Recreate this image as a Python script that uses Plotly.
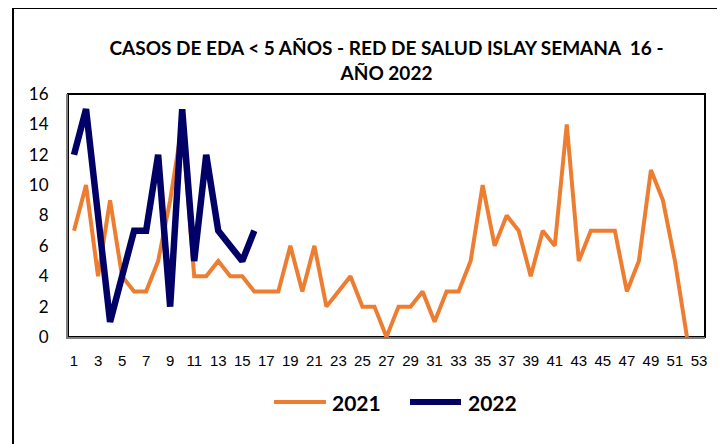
import plotly.graph_objects as go

weeks_2021 = list(range(1, 53))
cases_2021 = [7, 10, 4, 9, 4, 3, 3, 5, 9, 14, 4, 4, 5, 4, 4, 3, 3, 3, 6, 3,
              6, 2, 3, 4, 2, 2, 0, 2, 2, 3, 1, 3, 3, 5, 10, 6, 8, 7, 4, 7,
              6, 14, 5, 7, 7, 7, 3, 5, 11, 9, 5, 0]
weeks_2022 = list(range(1, 17))
cases_2022 = [12, 15, 8, 1, 4, 7, 7, 12, 2, 15, 5, 12, 7, 6, 5, 7]
x_tick_vals = list(range(1, 54, 2))
y_tick_vals = list(range(0, 17, 2))
series_names = ["2021", "2022"]

ORANGE = "#ED7D31"
NAVY = "#000066"

fig = go.Figure()
fig.add_trace(go.Scatter(x=weeks_2021, y=cases_2021, mode="lines", name=series_names[0],
                         line=dict(color=ORANGE, width=4), showlegend=False))
fig.add_trace(go.Scatter(x=weeks_2022, y=cases_2022, mode="lines", name=series_names[1],
                         line=dict(color=NAVY, width=6.5), showlegend=False))

# page body has an 8px margin; the figure is sized so it fills the window
OFF = 8
FIG_W, FIG_H = 725 - OFF, 444 - OFF
L, R, T, B = 68 - OFF, 20, 94 - OFF, 107
W, H = FIG_W - L - R, FIG_H - T - B  # plot area size in px


def px_x(p):
    return (p - 68) / W


def px_y(p):
    return (337 - p) / H


legend_y = px_y(402)
shapes = [
    dict(type="rect", xref="paper", yref="paper", x0=0, x1=1, y0=0, y1=1,
         line=dict(color="black", width=2), layer="below"),
    dict(type="rect", xref="paper", yref="paper",
         x0=px_x(13), x1=px_x(721), y0=px_y(470), y1=px_y(8),
         line=dict(color="black", width=2), layer="below"),
    dict(type="line", xref="paper", yref="paper", x0=px_x(274), x1=px_x(326),
         y0=legend_y, y1=legend_y, line=dict(color=ORANGE, width=4)),
    dict(type="line", xref="paper", yref="paper", x0=px_x(410), x1=px_x(461),
         y0=legend_y, y1=legend_y, line=dict(color=NAVY, width=6)),
]
annotations = [
    dict(text=series_names[0], xref="paper", yref="paper", x=px_x(330), y=legend_y,
         xanchor="left", yanchor="middle", showarrow=False,
         font=dict(family="Lato", size=21, color="black", weight="bold")),
    dict(text=series_names[1], xref="paper", yref="paper", x=px_x(466), y=legend_y,
         xanchor="left", yanchor="middle", showarrow=False,
         font=dict(family="Lato", size=21, color="black", weight="bold")),
]

fig.update_layout(
    width=FIG_W, height=FIG_H,
    margin=dict(l=L, r=R, t=T, b=B, autoexpand=False),
    paper_bgcolor="white", plot_bgcolor="white",
    showlegend=False,
    title=dict(text="CASOS DE EDA < 5 AÑOS - RED DE SALUD ISLAY SEMANA  16 -<br>AÑO 2022",
               x=0.5, xref="paper", xanchor="center", y=1 - 47 / FIG_H, yanchor="middle",
               font=dict(family="Lato", size=19, color="black", weight="bold")),
    xaxis=dict(range=[0.5, 53.5], tickvals=x_tick_vals, showgrid=False, zeroline=False,
               showline=True, linecolor="#808080", linewidth=2, ticks="", automargin=False,
               tickfont=dict(family="Liberation Sans", size=15, color="black"),
               ticklabelstandoff=9),
    yaxis=dict(range=[0, 16], tickvals=y_tick_vals, showgrid=False, zeroline=False,
               showline=True, linecolor="#808080", linewidth=2, ticks="", automargin=False,
               tickfont=dict(family="Lato", size=17, color="black"),
               ticklabelstandoff=14),
    shapes=shapes,
    annotations=annotations,
)

fig.write_html("out.html")
